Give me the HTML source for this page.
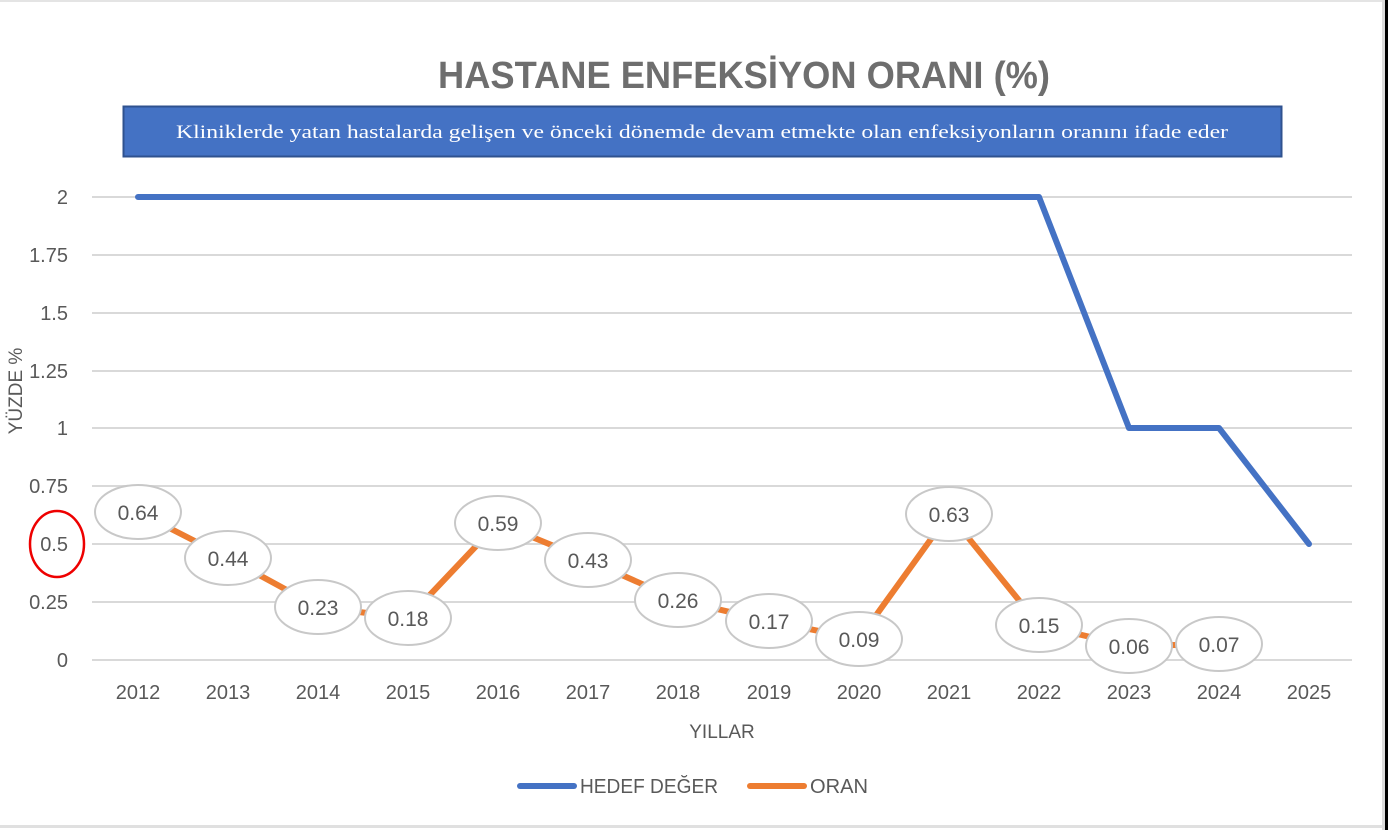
<!DOCTYPE html>
<html><head><meta charset="utf-8"><style>
html,body{margin:0;padding:0;background:#fff}
svg{display:block}
text{font-family:"Liberation Sans",sans-serif;fill:#595959}
</style></head><body>
<svg width="1388" height="830" viewBox="0 0 1388 830" xmlns="http://www.w3.org/2000/svg">
<rect x="0" y="0" width="1388" height="830" fill="#fff"/>
<rect x="0" y="0" width="1388" height="2" fill="#e4e4e4"/>
<rect x="0" y="825" width="1385" height="3" fill="#e0e0e0"/>
<rect x="1382" y="0" width="3" height="830" fill="#dcdcdc"/>
<rect x="1385" y="0" width="3" height="830" fill="#000"/>
<text x="744" y="88" text-anchor="middle" font-size="38" font-weight="bold" textLength="612" lengthAdjust="spacingAndGlyphs" style="fill:#6e6e6e">HASTANE ENFEKSİYON ORANI (%)</text>
<rect x="123.5" y="106.5" width="1158" height="50" fill="#4472c4" stroke="#2f528f" stroke-width="2"/>
<text x="702" y="138" text-anchor="middle" font-size="19" textLength="1052" lengthAdjust="spacingAndGlyphs" style="fill:#fff;font-family:'Liberation Serif',serif">Kliniklerde yatan hastalarda gelişen ve önceki dönemde devam etmekte olan enfeksiyonların oranını ifade eder</text>
<g stroke="#d9d9d9" stroke-width="2">
<line x1="92" x2="1352" y1="197" y2="197"/><line x1="92" x2="1352" y1="255" y2="255"/>
<line x1="92" x2="1352" y1="313" y2="313"/><line x1="92" x2="1352" y1="371" y2="371"/>
<line x1="92" x2="1352" y1="428" y2="428"/><line x1="92" x2="1352" y1="486" y2="486"/>
<line x1="92" x2="1352" y1="544" y2="544"/><line x1="92" x2="1352" y1="602" y2="602"/>
<line x1="92" x2="1352" y1="660" y2="660"/>
</g>
<g font-size="20" text-anchor="end">
<text x="68" y="204">2</text><text x="68" y="262">1.75</text><text x="68" y="320">1.5</text>
<text x="68" y="378">1.25</text><text x="68" y="435">1</text><text x="68" y="493">0.75</text>
<text x="68" y="551">0.5</text><text x="68" y="609">0.25</text><text x="68" y="667">0</text>
</g>
<ellipse cx="57" cy="544" rx="27" ry="33" fill="none" stroke="#e00" stroke-width="2.5"/>
<text transform="translate(22,391) rotate(-90)" text-anchor="middle" font-size="19">YÜZDE %</text>
<g font-size="20" text-anchor="middle">
<text x="138" y="699">2012</text><text x="228" y="699">2013</text><text x="318" y="699">2014</text>
<text x="408" y="699">2015</text><text x="498" y="699">2016</text><text x="588" y="699">2017</text>
<text x="678" y="699">2018</text><text x="769" y="699">2019</text><text x="859" y="699">2020</text>
<text x="949" y="699">2021</text><text x="1039" y="699">2022</text><text x="1129" y="699">2023</text>
<text x="1219" y="699">2024</text><text x="1309" y="699">2025</text>
</g>
<text x="722" y="738" text-anchor="middle" font-size="19">YILLAR</text>
<polyline fill="none" stroke="#4472c4" stroke-width="6" stroke-linejoin="round" stroke-linecap="round" points="138,197 1039,197 1129,428 1219,428 1309,544"/>
<polyline fill="none" stroke="#ed7d31" stroke-width="6" stroke-linejoin="round" points="138,512 228,558 318,607 408,618 498,523 588,560 678,600 769,621 859,639 949,514 1039,625 1129,646 1219,644"/>
<g fill="#fff" stroke="#c8c8c8" stroke-width="2">
<ellipse cx="138" cy="512" rx="43" ry="27"/><ellipse cx="228" cy="558" rx="43" ry="27"/>
<ellipse cx="318" cy="607" rx="43" ry="27"/><ellipse cx="408" cy="618" rx="43" ry="27"/>
<ellipse cx="498" cy="523" rx="43" ry="27"/><ellipse cx="588" cy="560" rx="43" ry="27"/>
<ellipse cx="678" cy="600" rx="43" ry="27"/><ellipse cx="769" cy="621" rx="43" ry="27"/>
<ellipse cx="859" cy="639" rx="43" ry="27"/><ellipse cx="949" cy="514" rx="43" ry="27"/>
<ellipse cx="1039" cy="625" rx="43" ry="27"/><ellipse cx="1129" cy="646" rx="43" ry="27"/>
<ellipse cx="1219" cy="644" rx="43" ry="27"/>
</g>
<g font-size="21" text-anchor="middle">
<text x="138" y="520">0.64</text><text x="228" y="566">0.44</text><text x="318" y="615">0.23</text>
<text x="408" y="626">0.18</text><text x="498" y="531">0.59</text><text x="588" y="568">0.43</text>
<text x="678" y="608">0.26</text><text x="769" y="629">0.17</text><text x="859" y="647">0.09</text>
<text x="949" y="522">0.63</text><text x="1039" y="633">0.15</text><text x="1129" y="654">0.06</text>
<text x="1219" y="652">0.07</text>
</g>
<line x1="520" y1="786" x2="574" y2="786" stroke="#4472c4" stroke-width="6" stroke-linecap="round"/>
<text x="580" y="793" font-size="20" textLength="138" lengthAdjust="spacingAndGlyphs">HEDEF DEĞER</text>
<line x1="750" y1="786" x2="804" y2="786" stroke="#ed7d31" stroke-width="6" stroke-linecap="round"/>
<text x="810" y="793" font-size="20" textLength="58" lengthAdjust="spacingAndGlyphs">ORAN</text>
</svg>
</body></html>
